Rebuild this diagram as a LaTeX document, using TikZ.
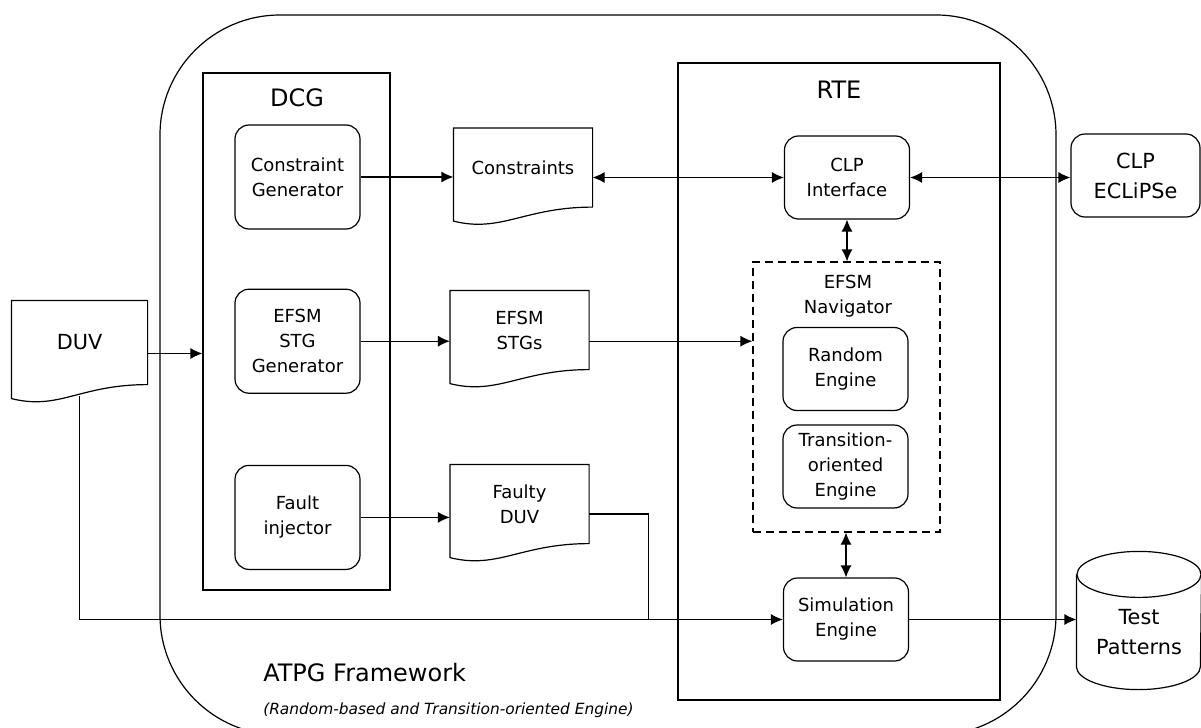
\documentclass[tikz,border=0pt]{standalone}
\usepackage{fontspec}
\setmainfont{DejaVu Sans}
\usetikzlibrary{positioning,shapes.geometric,arrows.meta}

\newcommand\infont{\fontsize{9}{12.5}\selectfont}
\newcommand\outfont{\fontsize{10.4}{15}\selectfont}
\newcommand\headfont{\fontsize{12}{14}\selectfont}

\tikzset{
  box/.style={draw,rounded corners=7pt,align=center,inner sep=1pt,font=\infont,minimum width=62.5pt,minimum height=41.5pt},
  docu/.style={align=center,inner sep=1pt,font=\infont,minimum width=69pt,minimum height=39pt},
  frame/.style={draw,inner sep=0pt},
  >={Latex[length=6pt,width=5.5pt]},
}

\begin{document}
\begin{tikzpicture}[x=0.5pt,y=-0.5pt,line width=0.6pt]
\useasboundingbox (0,0) rectangle (1201,728);

% containers
\node [frame,rounded corners=60pt,minimum width=448pt,minimum height=360pt] (atpg) at (608,375) {};
\node [frame,minimum width=93.5pt,minimum height=258.5pt] (dcg) at (296.5,331.5) {};
\node [frame,minimum width=161pt,minimum height=318.5pt] (rte) at (839,381.5) {};
\node [frame,dash pattern=on 4pt off 2.5pt,minimum width=93.5pt,minimum height=135pt] (nav) at (846.5,397) {};

% titles
\node [font=\headfont] (dcgl) at (297,98) {DCG};
\node [font=\headfont] (rtel) at (839,90) {RTE};
\node [font=\infont,align=center] (navl) at (848,296) {EFSM\\Navigator};
\node [font=\headfont,anchor=west] (atpgl) at (256,673) {ATPG Framework};
\node [font=\fontsize{7.7}{9}\selectfont\itshape,anchor=west] (atpgs) at (256,710) {(Random-based and Transition-oriented Engine)};

% DCG blocks
\node [box,minimum height=52pt] (cgen) at (297.5,177) {Constraint\\Generator};
\node [box,minimum height=52pt,below=29.5pt of cgen] (sgen) {EFSM\\STG\\Generator};
\node [box,minimum height=52pt,below=35.5pt of sgen] (finj) {Fault\\injector};

% documents
\node [docu] (cons) at (523,167.5) {Constraints};
\node [docu] (stgs) at (519.5,330) {EFSM\\STGs};
\node [docu] (fduv) at (519.5,504) {Faulty\\DUV};
\node [docu,font=\outfont,minimum width=67.5pt,minimum height=41.5pt] (duv) at (79.5,342.5) {DUV};
\foreach \d in {cons,stgs,fduv,duv}
  \draw (\d.north west) -- (\d.north east) -- (\d.south east)
        .. controls ([xshift=-34pt]\d.south east) and ([xshift=24pt,yshift=-13pt]\d.south west)
        .. ([yshift=-7pt]\d.south west) -- cycle;

% RTE blocks
\node [box] (clpi)  at (847,177.5)   {CLP\\Interface};
\node [box] (rand)  at (845.5,369)   {Random\\Engine};
\node [box] (trans) at (845.5,466.5) {Transition-\\oriented\\Engine};
\node [box] (sim)   at (846,619.5)   {Simulation\\Engine};

% outside
\node [box,font=\outfont,minimum width=64.5pt] (eclipse) at (1135.5,175.5) {CLP\\ECLiPSe};
\node [align=center,font=\outfont,inner sep=1pt,minimum width=62pt,minimum height=57pt] (tp) at (1139,632) {Test\\Patterns};
\draw (tp.north west) -- ([yshift=11.5pt]tp.south west)
      arc [start angle=180,end angle=360,x radius=31pt,y radius=11.5pt] -- (tp.north east);
\draw (tp.north) ellipse [x radius=31pt,y radius=11.5pt];

% connectors
\coordinate (duvout) at ([yshift=-5.5pt]duv.east);
\coordinate (duvbot) at ([yshift=-5.5pt]duv.south);
\coordinate (fout)   at ([yshift=-5pt]fduv.east);
\coordinate (merge)  at ([xshift=29.5pt]fout |- sim.west);

\draw [->] (duvout) -- (duvout -| dcg.west);
\draw [->] (cgen.east) -- (cgen.east -| cons.west);
\draw [->] (sgen.east) -- (sgen.east -| stgs.west);
\draw [->] (finj.east) -- (finj.east -| fduv.west);
\draw [<->] (clpi.west -| cons.east) -- (clpi.west);
\draw [<->] (clpi.east) -- (clpi.east -| eclipse.west);
\draw [->] (sgen.east -| stgs.east) -- (sgen.east -| nav.west);
\draw [<->] (clpi.south) -- (clpi.south |- nav.north);
\draw [<->] (sim.north |- nav.south) -- (sim.north);
\draw [->] (duvbot) |- (sim.west);
\draw (fout) -| (merge);
\draw [->] (sim.east) -- (sim.east -| tp.west);
\end{tikzpicture}
\end{document}
